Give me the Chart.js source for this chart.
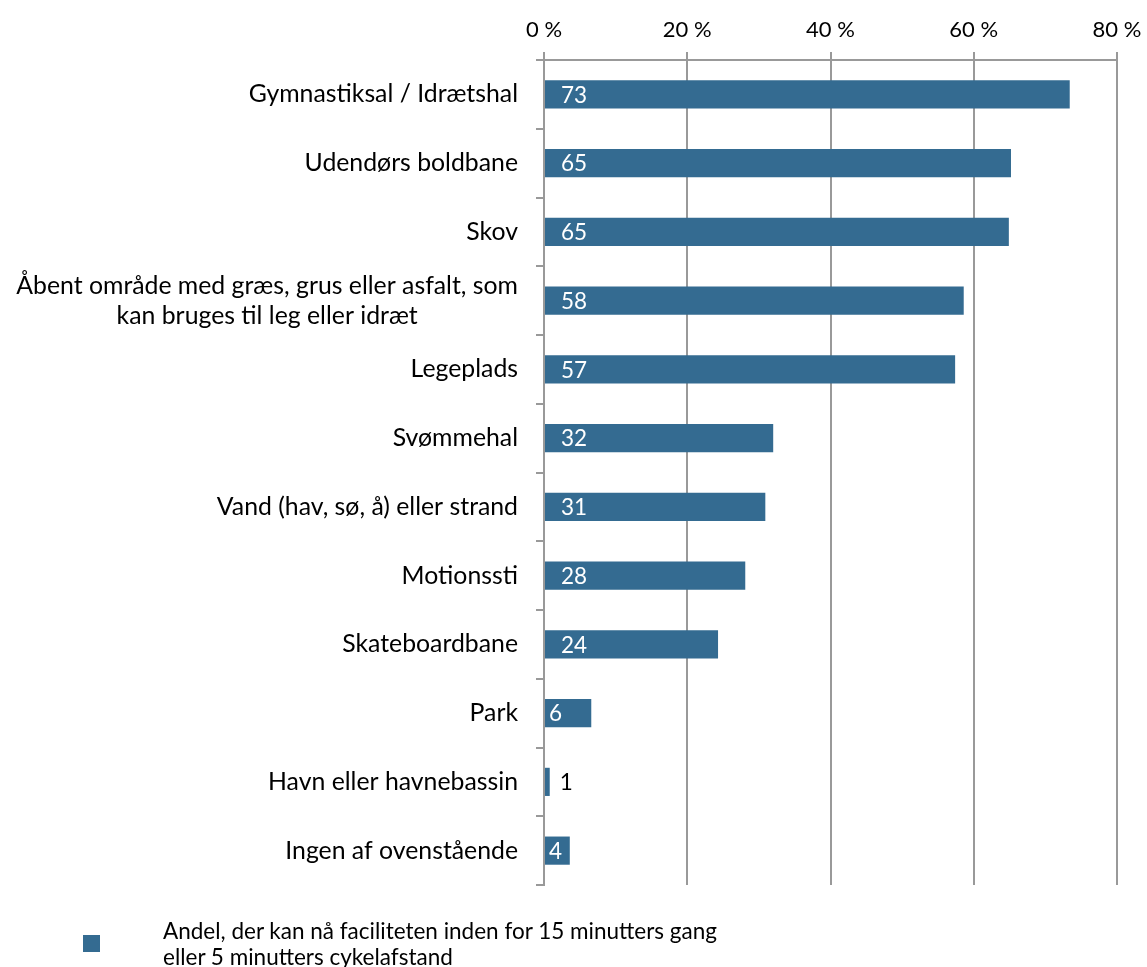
<!DOCTYPE html>
<html>
<head>
<meta charset="utf-8">
<script src="https://cdn.jsdelivr.net/npm/chart.js@4"></script>
<style>
  html, body { margin: 0; padding: 0; background: #fff; }
  #wrap { position: relative; width: 1147px; height: 967px; }
  #legend { position: absolute; left: 83px; top: 918px; font-family: Lato, sans-serif; font-size: 22.5px; color: #000; }
  #legend .box { position: absolute; left: 0; top: 17px; width: 17px; height: 17px; background: #346b91; }
  #legend .txt { position: absolute; left: 80px; top: 0; width: 700px; line-height: 26px; white-space: nowrap; }
</style>
</head>
<body>
<div id="wrap">
  <canvas id="chart" width="1147" height="967"></canvas>
  <div id="legend"><div class="box"></div><div class="txt">Andel, der kan nå faciliteten inden for 15 minutters gang<br>eller 5 minutters cykelafstand</div></div>
</div>
<script>
const categories = [
    ['Gymnastiksal / Idrætshal'],
    ['Udendørs boldbane'],
    ['Skov'],
    ['Åbent område med græs, grus eller asfalt, som', 'kan bruges til leg eller idræt'],
    ['Legeplads'],
    ['Svømmehal'],
    ['Vand (hav, sø, å) eller strand'],
    ['Motionssti'],
    ['Skateboardbane'],
    ['Park'],
    ['Havn eller havnebassin'],
    ['Ingen af ovenstående']
];
const shareValues = [73.4, 65.2, 64.9, 58.6, 57.4, 32.0, 30.9, 28.1, 24.3, 6.6, 0.8, 3.6];
const shareLabels = ['73', '65', '65', '58', '57', '32', '31', '28', '24', '6', '1', '4'];
const xTicks = [0, 20, 40, 60, 80];

const FONT = 'Lato, sans-serif';
const BAR_COLOR = '#346b91';

// kategorinavne tegnes selv, så linjer i samme label centreres mod hinanden
const categoryLabelPlugin = {
    id: 'categoryLabels',
    afterDraw(chart) {
        const ctx = chart.ctx;
        const yScale = chart.scales.y;
        const right = chart.chartArea.left - 26;
        const lineH = 30;
        ctx.save();
        ctx.font = '24.8px ' + FONT;
        ctx.fillStyle = '#000';
        ctx.textBaseline = 'middle';
        ctx.textAlign = 'center';
        categories.forEach((lines, i) => {
            const yc = yScale.getPixelForValue(i);
            const w = Math.max(...lines.map(l => ctx.measureText(l).width));
            const cx = right - w / 2;
            const y0 = yc - (lines.length - 1) * lineH / 2;
            lines.forEach((l, j) => ctx.fillText(l, cx, y0 + j * lineH));
        });
        ctx.restore();
    }
};

const valueLabelPlugin = {
    id: 'valueLabels',
    afterDatasetsDraw(chart) {
        const ctx = chart.ctx;
        const meta = chart.getDatasetMeta(0);
        ctx.save();
        ctx.font = '22.5px ' + FONT;
        ctx.textBaseline = 'middle';
        ctx.textAlign = 'left';
        meta.data.forEach((bar, i) => {
            const width = bar.x - bar.base;
            const txt = shareLabels[i];
            if (width < 12) {
                ctx.fillStyle = '#000';
                ctx.fillText(txt, bar.x + 10, bar.y + 1);
            } else {
                ctx.fillStyle = '#fff';
                const x = width > 60 ? bar.base + 16 : bar.base + 4;
                ctx.fillText(txt, x, bar.y + 1);
            }
        });
        ctx.restore();
    }
};

new Chart(document.getElementById('chart'), {
    type: 'bar',
    data: {
        labels: categories.map(c => c.join(' ')),
        datasets: [{
            data: shareValues,
            backgroundColor: BAR_COLOR,
            borderWidth: 0,
            barPercentage: 0.41,
            categoryPercentage: 1.0
        }]
    },
    options: {
        indexAxis: 'y',
        responsive: false,
        animation: false,
        layout: { padding: { top: 0, right: 30, bottom: 82, left: 0 } },
        plugins: { legend: { display: false }, tooltip: { enabled: false } },
        scales: {
            x: {
                position: 'top',
                min: 0,
                max: 80,
                afterBuildTicks: (s) => { s.ticks = xTicks.map(v => ({ value: v })); },
                afterFit: (s) => { s.height = 60; s.paddingLeft = 0; s.paddingRight = 0; },
                grid: { color: '#999', lineWidth: 2, tickLength: 8, drawTicks: true },
                border: { color: '#999', width: 2 },
                ticks: {
                    font: { family: FONT, size: 22 },
                    color: '#000',
                    padding: 9,
                    callback: (v) => v + ' %'
                }
            },
            y: {
                afterFit: (s) => { s.width = 544; },
                grid: { offset: true, drawOnChartArea: false, color: '#999', lineWidth: 2, tickLength: 8 },
                border: { color: '#999', width: 2 },
                ticks: { display: false }
            }
        }
    },
    plugins: [categoryLabelPlugin, valueLabelPlugin]
});
</script>
</body>
</html>
